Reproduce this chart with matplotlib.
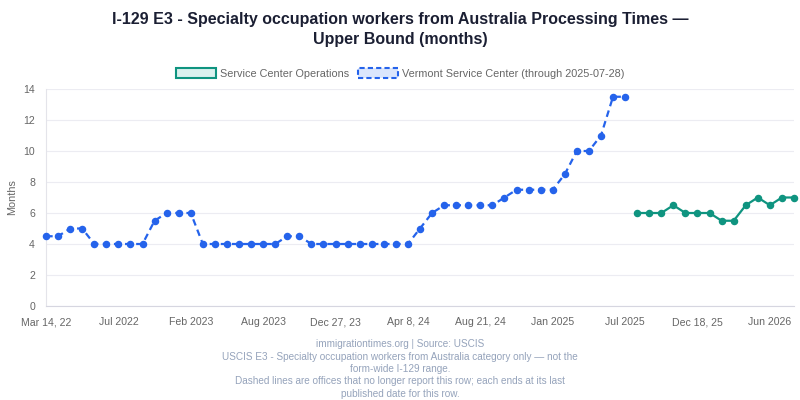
import matplotlib
matplotlib.use("Agg")
import matplotlib.pyplot as plt
from matplotlib.patches import Patch
import numpy as np

plt.rcParams["font.family"] = ["Liberation Sans", "DejaVu Sans"]

# Vermont Service Center, one value per published date (months)
vermont_values = [
    4.5, 4.5, 5, 5, 4, 4, 4, 4, 4, 5.5, 6, 6, 6, 4, 4, 4, 4, 4, 4, 4, 4.5, 4.5, 4, 4,
    4, 4, 4, 4, 4, 4, 4, 5, 6, 6.5, 6.5, 6.5, 6.5, 6.5, 7, 7.5, 7.5, 7.5, 7.5, 8.5,
    10, 10, 11, 13.5, 13.5,
]
# Service Center Operations, continues after Vermont stops reporting
sco_values = [6, 6, 6, 6.5, 6, 6, 6, 5.5, 5.5, 6.5, 7, 6.5, 7, 7]

tick_labels = [
    "Mar 14, 22", "Jul 2022", "Feb 2023", "Aug 2023", "Dec 27, 23", "Apr 8, 24",
    "Aug 21, 24", "Jan 2025", "Jul 2025", "Dec 18, 25", "Jun 2026",
]
tick_every = 6

title = ("I-129 E3 - Specialty occupation workers from Australia Processing Times \u2014\n"
         "Upper Bound (months)")
footer = ("immigrationtimes.org | Source: USCIS\n"
          "USCIS E3 - Specialty occupation workers from Australia category only \u2014 not the\n"
          "form-wide I-129 range.\n"
          "Dashed lines are offices that no longer report this row; each ends at its last\n"
          "published date for this row.")

BLUE = "#2563eb"
GREEN = "#0f9480"
n_total = len(vermont_values) + len(sco_values)
x_vt = np.arange(len(vermont_values))
x_sco = np.arange(len(vermont_values), n_total)

fig = plt.figure(figsize=(8, 4), dpi=100)
ax = fig.add_axes([46 / 800, 94 / 400, 748 / 800, 217 / 400])

ax.plot(x_vt, vermont_values, color=BLUE, lw=1.6, dashes=(3.0, 2.0),
        marker="o", ms=4.4, mew=1, mfc=BLUE, mec=BLUE, clip_on=False, zorder=3)
ax.plot(x_sco, sco_values, color=GREEN, lw=1.6,
        marker="o", ms=4.4, mew=1, mfc=GREEN, mec=GREEN, clip_on=False, zorder=3)

ax.set_xlim(0, n_total - 1)
ax.set_ylim(0, 14)
ax.set_yticks(range(0, 15, 2))
ax.set_xticks(range(0, n_total, tick_every))
ax.set_xticklabels(tick_labels)
ax.tick_params(axis="both", length=0, labelsize=7.6, labelcolor="#666666")
ax.tick_params(axis="x", pad=8)
ax.tick_params(axis="y", pad=8)
ax.set_ylabel("Months", fontsize=7.8, color="#666666", labelpad=4)

ax.grid(axis="y", color="#ececf2", lw=0.8)
ax.set_axisbelow(True)
for side in ["top", "right"]:
    ax.spines[side].set_visible(False)
ax.spines["left"].set_color("#e4e4ea")
ax.spines["bottom"].set_color("#d6d6e0")

fig.text(0.5, 1 - 29.5 / 400, title, ha="center", va="center", fontsize=11.5,
         fontweight="bold", color="#1b1f33", linespacing=1.4)

handles = [
    Patch(facecolor="#daf1ee", edgecolor=GREEN, lw=1.5),
    Patch(facecolor="#dbe6fc", edgecolor=BLUE, lw=1.5, linestyle=(0, (2.5, 1.5))),
]
fig.legend(handles, ["Service Center Operations", "Vermont Service Center (through 2025-07-28)"],
           loc="center", bbox_to_anchor=(0.5, 1 - 73.5 / 400), ncol=2, frameon=False,
           fontsize=7.8, labelcolor="#666666", handlelength=3.7, handleheight=1.0,
           handletextpad=0.4, columnspacing=0.8)

fig.text(0.5, 1 - 369 / 400, footer, ha="center", va="center", fontsize=7.2,
         color="#95a3bb", linespacing=1.3)

fig.savefig("out.png", dpi=100)
